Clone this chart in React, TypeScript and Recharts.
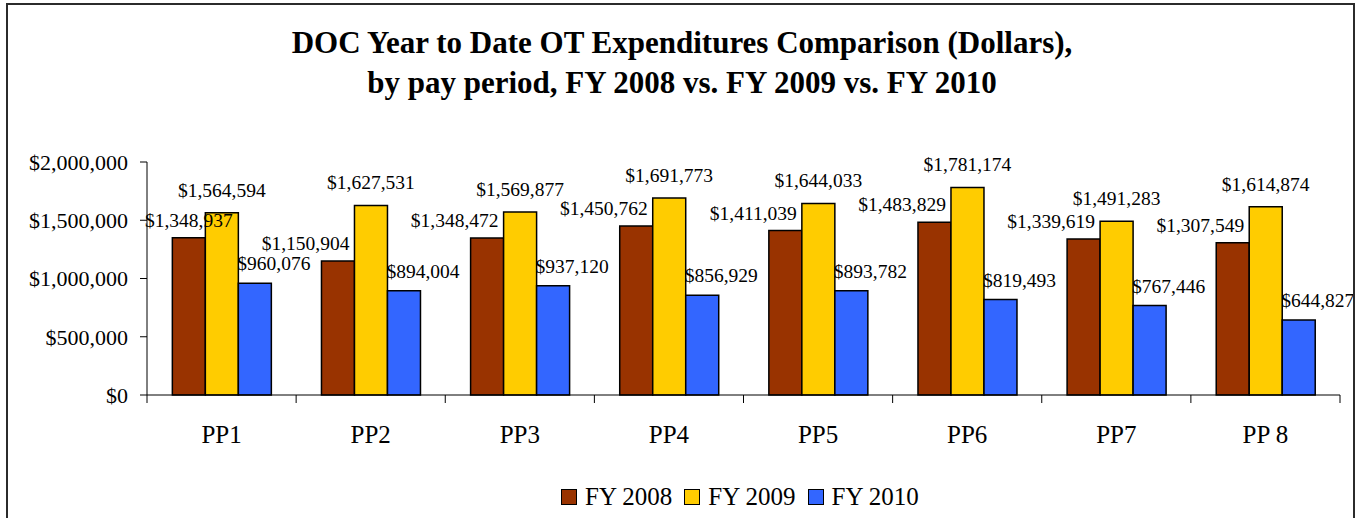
import { BarChart, Bar, XAxis, YAxis, Legend, LabelList } from 'recharts';

const categories = ['PP1', 'PP2', 'PP3', 'PP4', 'PP5', 'PP6', 'PP7', 'PP 8'];
const fy2008 = [1348937, 1150904, 1348472, 1450762, 1411039, 1483829, 1339619, 1307549];
const fy2009 = [1564594, 1627531, 1569877, 1691773, 1644033, 1781174, 1491283, 1614874];
const fy2010 = [960076, 894004, 937120, 856929, 893782, 819493, 767446, 644827];
const yTicks = [0, 500000, 1000000, 1500000, 2000000];

const data = categories.map((pp, i) => ({
  pp,
  fy2008: fy2008[i],
  fy2009: fy2009[i],
  fy2010: fy2010[i],
}));

const WIDTH = 1356;
const HEIGHT = 518;
const PLOT_LEFT = 147;
const PLOT_RIGHT = 1340;
const PLOT_BOTTOM = 395;
const STEP = (PLOT_RIGHT - PLOT_LEFT) / categories.length;
const FONT = '"Liberation Serif", "Times New Roman", serif';

const money = (v: number) => '$' + v.toLocaleString('en-US');

const CategoryTick = (props: any) => {
  const { x, payload, index } = props;
  const half = STEP / 2;
  return (
    <g>
      <line x1={x - half} x2={x - half} y1={PLOT_BOTTOM} y2={PLOT_BOTTOM + 8} stroke="#000" />
      {index === categories.length - 1 && (
        <line x1={x + half} x2={x + half} y1={PLOT_BOTTOM} y2={PLOT_BOTTOM + 8} stroke="#000" />
      )}
      <text x={x} y={PLOT_BOTTOM + 48} textAnchor="middle" fontSize={25} fontFamily={FONT} fill="#000">
        {payload.value}
      </text>
    </g>
  );
};

// anchor: where the label sits relative to its bar, like the nudged Excel labels
// (the first FY 2008 label was left centred in the original)
const makeLabel = (anchor: 'start' | 'middle' | 'end', lift: number) => (p: any) => {
  const { x, y, width, value, index } = p;
  const a = anchor === 'end' && index === 0 ? 'middle' : anchor;
  let tx = x + width / 2;
  if (a === 'end') tx = x + width - 5;
  if (a === 'start') tx = x - 1;
  return (
    <text x={tx} y={y - lift} textAnchor={a} fontSize={19.5} fontFamily={FONT} fill="#000">
      {money(value)}
    </text>
  );
};

const renderLegend = (props: any) => {
  const { payload } = props;
  return (
    <div
      style={{
        height: 43,
        display: 'flex',
        alignItems: 'center',
        paddingLeft: 561,
        fontFamily: FONT,
        fontSize: 25,
        color: '#000',
      }}
    >
      {payload.map((item: any) => (
        <div key={item.value} style={{ display: 'flex', alignItems: 'center', marginRight: 12 }}>
          <span
            style={{
              width: 16,
              height: 16,
              boxSizing: 'border-box',
              background: item.color,
              border: '1.5px solid #000',
              marginRight: 8,
            }}
          />
          <span>{item.value}</span>
        </div>
      ))}
    </div>
  );
};

const App = () => {
  return (
    <div
      style={{
        position: 'absolute',
        left: 0,
        top: 0,
        width: WIDTH,
        height: HEIGHT,
        overflow: 'hidden',
        background: '#fff',
      }}
    >
      <BarChart
        width={WIDTH}
        height={HEIGHT}
        data={data}
        margin={{ top: 162, right: WIDTH - PLOT_RIGHT, bottom: 0, left: 17 }}
        barCategoryGap="17%"
        barGap={0}
      >
        <XAxis
          dataKey="pp"
          height={80}
          axisLine={{ stroke: '#000' }}
          tickLine={false}
          interval={0}
          tick={<CategoryTick />}
        />
        <YAxis
          width={130}
          domain={[0, 2000000]}
          ticks={yTicks}
          tickFormatter={money}
          axisLine={{ stroke: '#000' }}
          tickLine={{ stroke: '#000' }}
          tickSize={7}
          tickMargin={12}
          tick={{ fontSize: 22, fontFamily: FONT, fill: '#000' }}
        />
        <Legend verticalAlign="bottom" height={43} wrapperStyle={{ left: 0, width: WIDTH }} content={renderLegend} />
        <Bar dataKey="fy2008" name="FY 2008" fill="#993300" stroke="#000" strokeWidth={1.5} isAnimationActive={false}>
          <LabelList dataKey="fy2008" content={makeLabel('end', 11)} />
        </Bar>
        <Bar dataKey="fy2009" name="FY 2009" fill="#FFCC00" stroke="#000" strokeWidth={1.5} isAnimationActive={false}>
          <LabelList dataKey="fy2009" content={makeLabel('middle', 16)} />
        </Bar>
        <Bar dataKey="fy2010" name="FY 2010" fill="#3366FF" stroke="#000" strokeWidth={1.5} isAnimationActive={false}>
          <LabelList dataKey="fy2010" content={makeLabel('start', 13)} />
        </Bar>
      </BarChart>
      <div
        style={{
          position: 'absolute',
          left: 6,
          top: 3,
          width: 1349,
          height: 600,
          boxSizing: 'border-box',
          border: '2px solid #2b2b2b',
          pointerEvents: 'none',
        }}
      />
      <div
        style={{
          position: 'absolute',
          left: 8,
          top: 22.5,
          width: 1348,
          textAlign: 'center',
          fontFamily: FONT,
          fontWeight: 'bold',
          fontSize: 31,
          lineHeight: '40px',
          color: '#000',
        }}
      >
        DOC Year to Date OT Expenditures Comparison (Dollars),
        <br />
        by pay period, FY 2008 vs. FY 2009 vs. FY 2010
      </div>
    </div>
  );
};

export default App;
